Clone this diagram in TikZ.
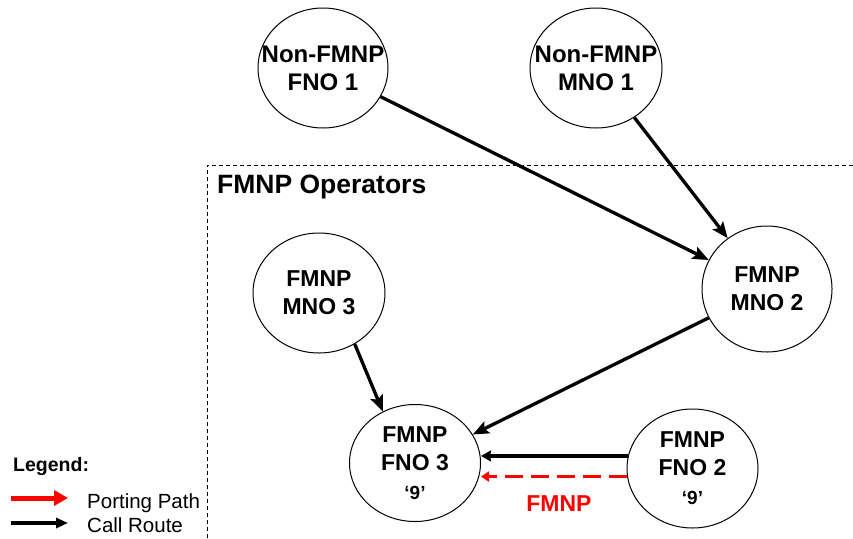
\documentclass[tikz,border=0pt]{standalone}
\usepackage{fontspec}
\setmainfont{Liberation Sans}
\usetikzlibrary{arrows.meta,shapes.geometric}

\definecolor{portred}{RGB}{255,0,0}

\tikzset{
  operator/.style={ellipse, draw, line width=1pt, inner sep=0pt},
  oplabel/.style={font=\bfseries\fontsize{23}{28}\selectfont, align=center, inner sep=0pt},
  callroute/.style={line width=3.3pt, -{Stealth[length=16pt,width=13pt,inset=3pt]}},
  callshort/.style={line width=3.3pt, -{Stealth[length=10pt,width=11pt,inset=1pt]}},
  portpath/.style={portred, line width=3.5pt, dash pattern=on 18pt off 8pt,
    -{Triangle[length=8pt,width=10pt]}},
  groupbox/.style={line width=0.8pt, dash pattern=on 4pt off 3pt},
}

\begin{document}
\begin{tikzpicture}[x=1pt,y=-1pt]
\useasboundingbox (0,0) rectangle (853,538);

% operator group frame
\coordinate (boxnw) at (207,165);
\coordinate (boxne) at (853,165);
\coordinate (boxsw) at (207,538);
\draw[groupbox] (boxsw) -- (boxnw) -- (boxne);
\node[anchor=base west, inner sep=0pt, font=\bfseries\fontsize{26.5}{30}\selectfont]
  (grouptitle) at (217,193) {FMNP Operators};

% operators
\node[operator, minimum width=130pt, minimum height=120pt] (fno1) at (323,68) {};
\node[oplabel, font=\bfseries\fontsize{24}{28}\selectfont] (fno1t) at (fno1) {Non-FMNP\\FNO 1};

\node[operator, minimum width=132pt, minimum height=120pt] (mno1) at (596,68) {};
\node[oplabel, font=\bfseries\fontsize{24}{28}\selectfont] (mno1t) at (mno1) {Non-FMNP\\MNO 1};

\node[operator, minimum width=132pt, minimum height=120pt] (mno3) at (319,293) {};
\node[oplabel] (mno3t) at (mno3) {FMNP\\MNO 3};

\node[operator, minimum width=130pt, minimum height=126pt] (mno2) at (767,289) {};
\node[oplabel] (mno2t) at (mno2) {FMNP\\MNO 2};

\node[operator, minimum width=131pt, minimum height=117pt] (fno3) at (415,463) {};
\node[oplabel] (fno3t) at (fno3) {FMNP\\FNO 3\\[1pt]{\fontsize{19}{22}\selectfont ‘9’}};

\node[operator, minimum width=131pt, minimum height=119pt] (fno2) at (692.5,468.5) {};
\node[oplabel] (fno2t) at (fno2) {FMNP\\FNO 2\\[1pt]{\fontsize{19}{22}\selectfont ‘9’}};

% call routes
\draw[callroute] (fno1) -- (mno2);
\draw[callroute] (mno1) -- (mno2);
\draw[callroute] (mno3.-55) -- (fno3.122);
\draw[callroute] (mno2) -- (fno3);
\draw[callshort] (fno2.169) -- (fno2.169 -| fno3.east);

% porting path
\draw[portpath] (fno2.187) -- (fno2.187 -| fno3.east);
\node[anchor=base, inner sep=0pt, text=portred, font=\bfseries\fontsize{23}{26}\selectfont]
  (portlbl) at (559,511) {FMNP};

% legend
\node[anchor=base west, inner sep=0pt, font=\bfseries\fontsize{19.5}{22}\selectfont]
  (legtitle) at (13,471) {Legend:};
\coordinate (lega) at (11,498);
\coordinate (legb) at (68,498);
\draw[portred, line width=5pt, -{Triangle[length=14pt,width=15pt]}] (lega) -- (legb);
\node[anchor=base west, inner sep=0pt, font=\fontsize{20.5}{24}\selectfont]
  (legport) at (87,508) {Porting Path};
\coordinate (legc) at (11,523);
\coordinate (legd) at (68,523);
\draw[line width=3.3pt, -{Triangle[length=12pt,width=10pt]}] (legc) -- (legd);
\node[anchor=base west, inner sep=0pt, font=\fontsize{20.5}{24}\selectfont]
  (legcall) at (87,532) {Call Route};
\end{tikzpicture}
\end{document}
